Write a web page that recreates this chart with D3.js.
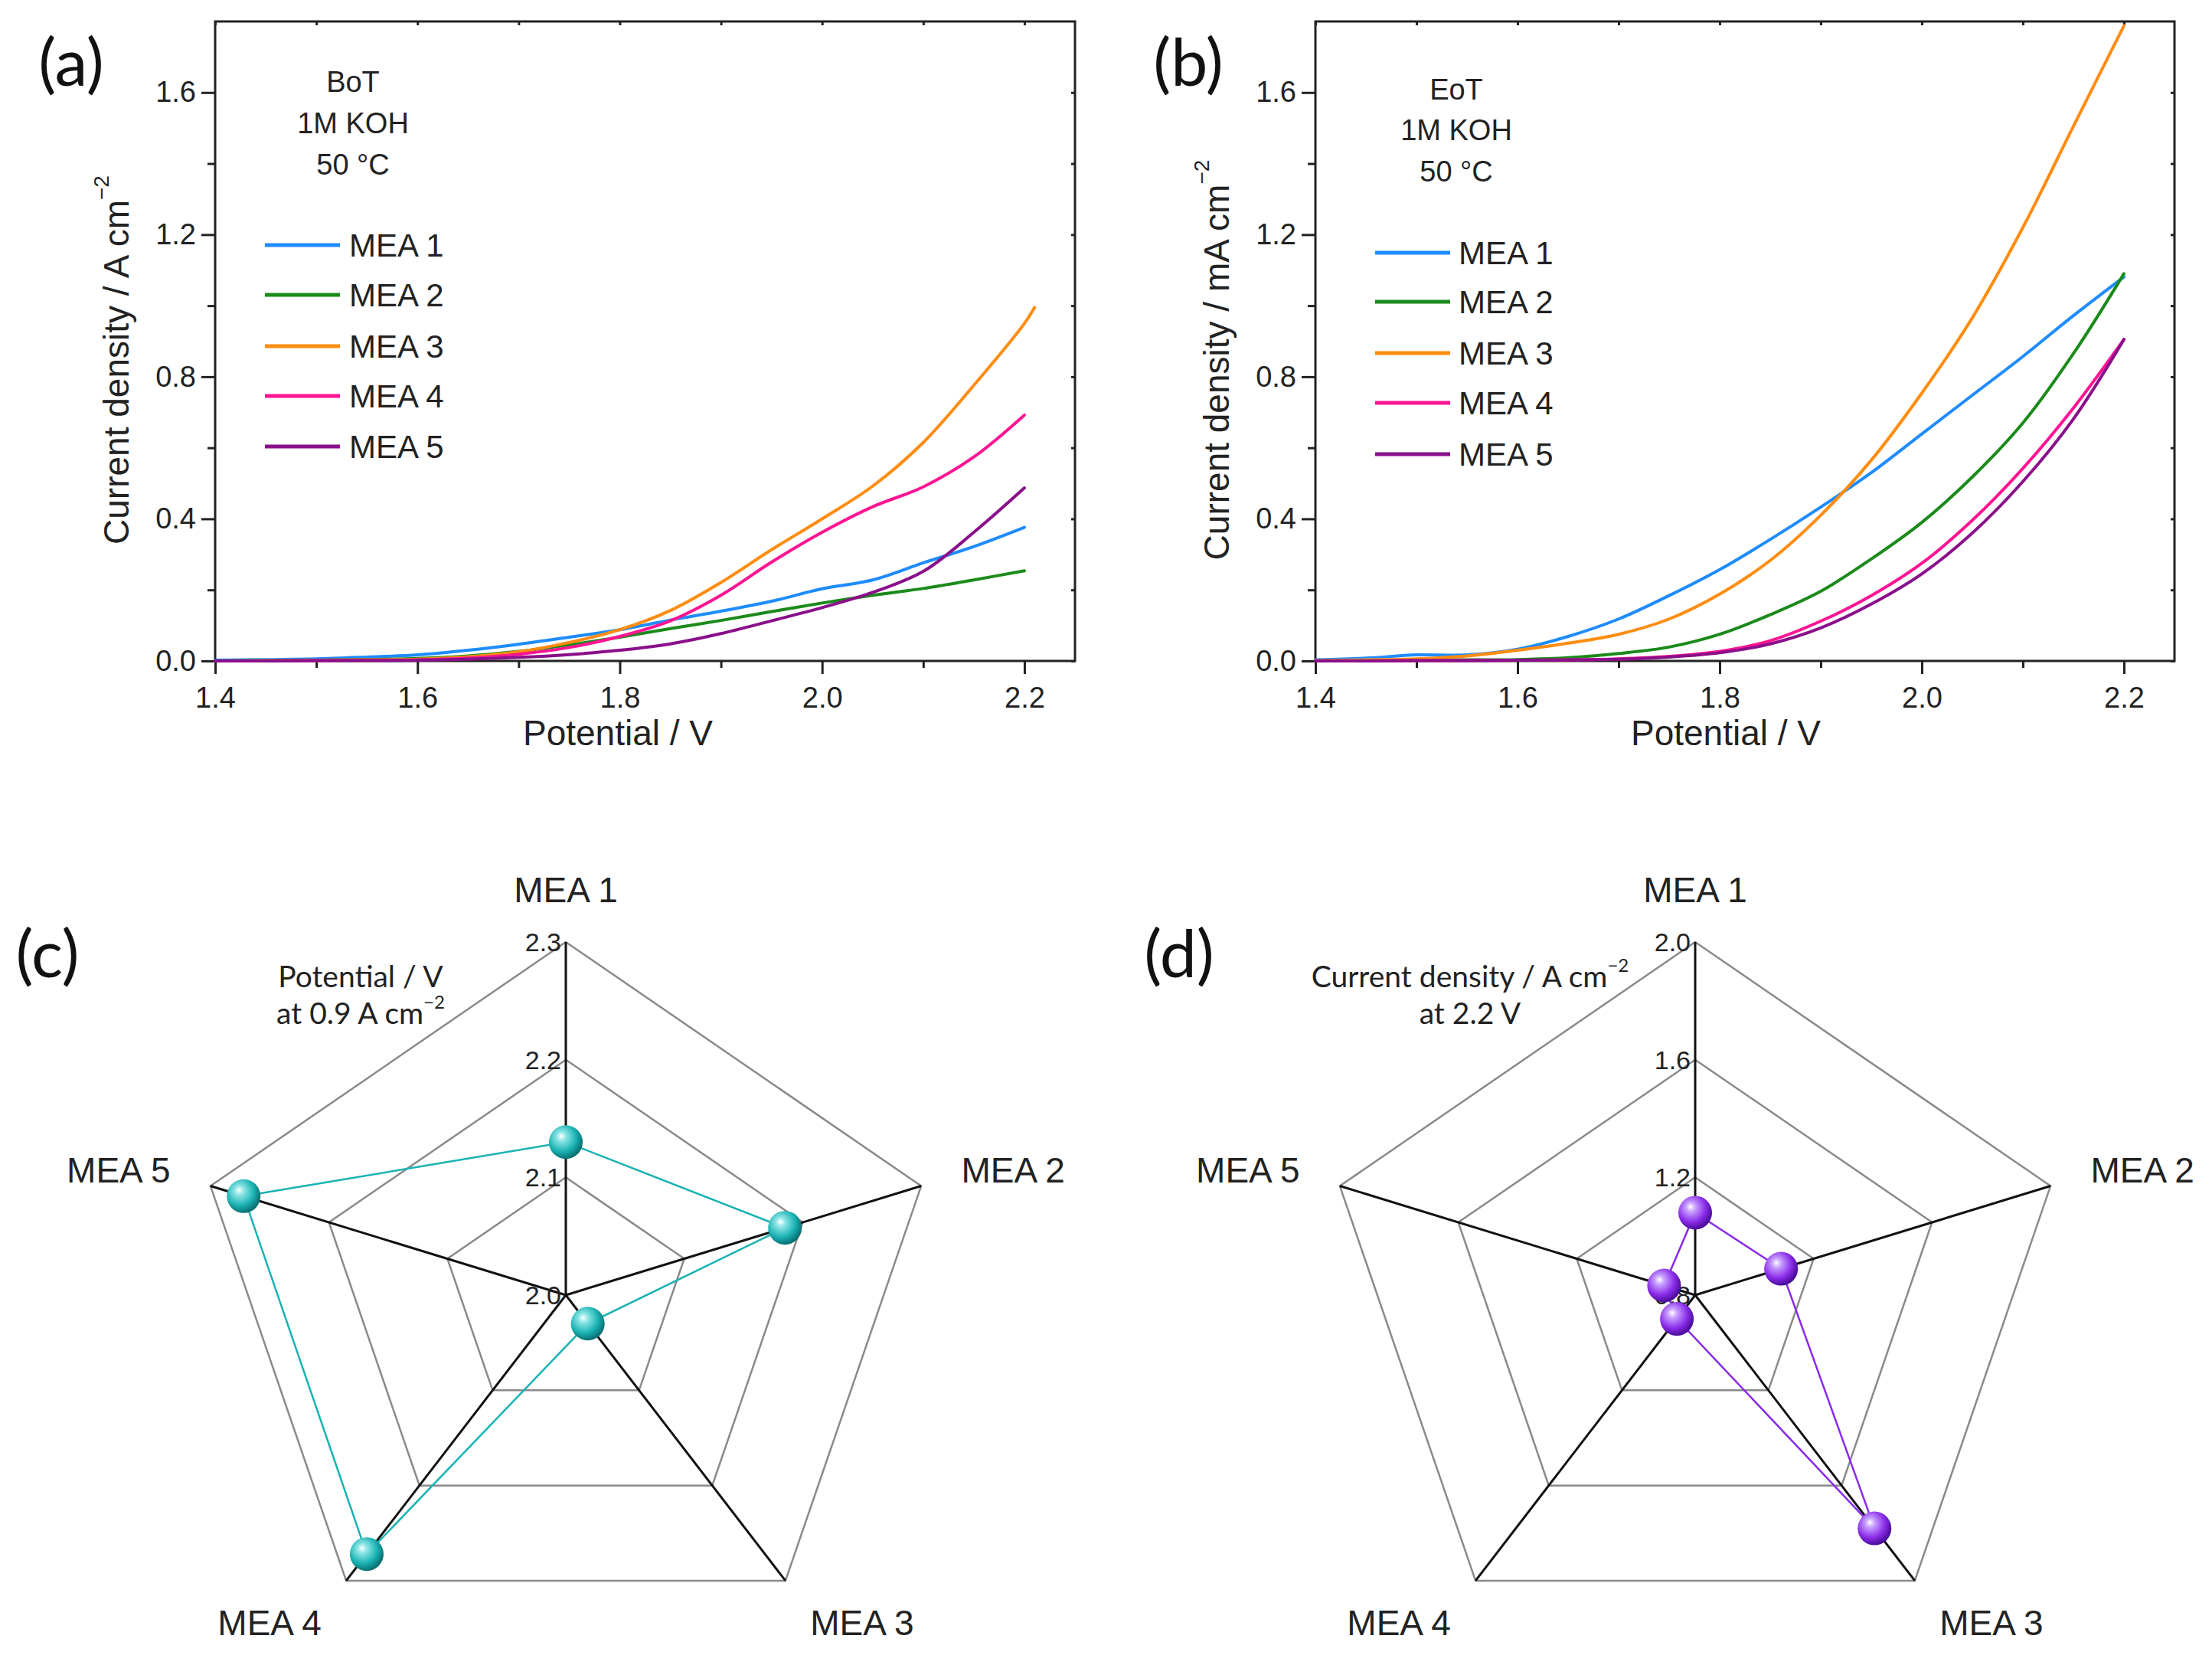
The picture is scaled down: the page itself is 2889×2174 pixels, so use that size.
<!DOCTYPE html>
<html>
<head>
<meta charset="utf-8">
<script src="https://cdn.jsdelivr.net/npm/d3@7/dist/d3.min.js"></script>
<style>
  body { margin: 0; background: #fff; }
  svg { display: block; font-family: "Liberation Sans", Arial, sans-serif; }
</style>
</head>
<body>
<div id="chart"></div>
<script>
// ---- data ----
const meaNames = ["MEA 1", "MEA 2", "MEA 3", "MEA 4", "MEA 5"]
const meaColors = ["#1e8cff", "#1b8a1b", "#ff8c0f", "#ff1493", "#8a0f8a"]

const potential = [1.40, 1.45, 1.50, 1.55, 1.60, 1.65, 1.70, 1.75, 1.80, 1.85, 1.90, 1.95, 2.00, 2.05, 2.10, 2.15, 2.20]
const potentialBotMEA3 = [1.40, 1.45, 1.50, 1.55, 1.60, 1.65, 1.70, 1.75, 1.80, 1.85, 1.90, 1.95, 2.00, 2.05, 2.10, 2.15, 2.20, 2.21]

// (a) beginning of test, A cm-2
const botMEA1 = [0.002, 0.004, 0.006, 0.011, 0.017, 0.030, 0.047, 0.067, 0.088, 0.115, 0.140, 0.168, 0.203, 0.228, 0.276, 0.322, 0.376]
const botMEA2 = [0.000, 0.001, 0.002, 0.004, 0.007, 0.014, 0.027, 0.045, 0.067, 0.091, 0.114, 0.139, 0.163, 0.185, 0.204, 0.228, 0.254]
const botMEA3 = [0.000, 0.001, 0.002, 0.003, 0.005, 0.012, 0.026, 0.052, 0.088, 0.142, 0.221, 0.313, 0.400, 0.492, 0.615, 0.776, 0.950, 0.995]
const botMEA4 = [0.000, 0.000, 0.001, 0.002, 0.003, 0.008, 0.019, 0.038, 0.069, 0.113, 0.185, 0.278, 0.362, 0.434, 0.490, 0.574, 0.692]
const botMEA5 = [0.000, 0.000, 0.001, 0.001, 0.002, 0.005, 0.010, 0.018, 0.030, 0.048, 0.077, 0.113, 0.150, 0.193, 0.252, 0.362, 0.487]

// (b) end of test
const eotMEA1 = [0.003, 0.008, 0.017, 0.017, 0.033, 0.069, 0.118, 0.184, 0.257, 0.342, 0.433, 0.530, 0.639, 0.748, 0.857, 0.972, 1.081]
const eotMEA2 = [0.000, 0.001, 0.002, 0.003, 0.004, 0.009, 0.021, 0.039, 0.075, 0.130, 0.196, 0.287, 0.390, 0.518, 0.670, 0.865, 1.090]
const eotMEA3 = [0.001, 0.003, 0.006, 0.014, 0.030, 0.050, 0.075, 0.118, 0.188, 0.283, 0.410, 0.565, 0.754, 0.966, 1.220, 1.505, 1.788]
const eotMEA4 = [0.000, 0.000, 0.001, 0.001, 0.002, 0.003, 0.006, 0.013, 0.027, 0.057, 0.112, 0.184, 0.275, 0.396, 0.542, 0.712, 0.905]
const eotMEA5 = [0.000, 0.000, 0.001, 0.001, 0.002, 0.003, 0.005, 0.011, 0.023, 0.048, 0.093, 0.160, 0.245, 0.360, 0.505, 0.681, 0.905]

const xMajorTicks = [1.4, 1.6, 1.8, 2.0, 2.2]
const xMinorTicks = [1.5, 1.7, 1.9, 2.1]
const yMajorTicks = [0, 0.4, 0.8, 1.2, 1.6]
const yMinorTicks = [0.2, 0.6, 1.0, 1.4]

// (c) potential at 0.9 A cm-2, (d) current density at 2.2 V
const radarPotential = [2.13, 2.185, 2.03, 2.272, 2.272]
const radarPotentialTicks = [2.0, 2.1, 2.2, 2.3]
const radarCurrent = [1.08, 1.09, 1.78, 0.90, 0.905]
const radarCurrentTicks = [0.8, 1.2, 1.6, 2.0]

const FONT = '"Liberation Sans", Arial, sans-serif'
const NOTE_FONT = 'Lato, "Open Sans", sans-serif'

const svg = d3.select("#chart").append("svg")
  .attr("width", 2889)
  .attr("height", 2174)

svg.append("rect").attr("width", 2889).attr("height", 2174).attr("fill", "#fff")

const defs = svg.append("defs")

function panelLetter(pos) {
  svg.append("text")
    .attr("x", pos[0])
    .attr("y", pos[1])
    .attr("text-anchor", "middle")
    .attr("dominant-baseline", "central")
    .attr("font-family", NOTE_FONT)
    .attr("font-size", 86)
    .attr("fill", "#111")
    .text(pos[2])
}

class LinePanel {
  constructor(cfg) {
    this.cfg = cfg
    this.initVis()
  }

  initVis() {
    const vis = this
    const c = vis.cfg

    vis.g = svg.append("g").attr("transform", `translate(${c.left}, ${c.top})`)

    vis.x = d3.scaleLinear().domain([1.4, 2.25]).range([0, c.width])
    vis.y = d3.scaleLinear().domain([0, 1.8]).range([c.height, 0])

    const fmt = d3.format(".1f")

    // outward ticks bottom / left
    const xMajor = vis.g.append("g")
      .attr("transform", `translate(0, ${c.height})`)
      .call(d3.axisBottom(vis.x).tickValues(xMajorTicks).tickSize(17).tickPadding(17).tickFormat(fmt))
    const xMinor = vis.g.append("g")
      .attr("transform", `translate(0, ${c.height})`)
      .call(d3.axisBottom(vis.x).tickValues(xMinorTicks).tickSize(9).tickFormat(""))
    const yMajor = vis.g.append("g")
      .call(d3.axisLeft(vis.y).tickValues(yMajorTicks).tickSize(18).tickPadding(7).tickFormat(fmt))
    const yMinor = vis.g.append("g")
      .call(d3.axisLeft(vis.y).tickValues(yMinorTicks).tickSize(10).tickFormat(""))

    // small inward ticks on top / right
    const xTop = vis.g.append("g")
      .call(d3.axisTop(vis.x).tickValues(xMajorTicks.concat(xMinorTicks)).tickSize(-5).tickFormat(""))
    const yRight = vis.g.append("g")
      .attr("transform", `translate(${c.width}, 0)`)
      .call(d3.axisRight(vis.y).tickValues(yMajorTicks.concat(yMinorTicks)).tickSize(-5).tickFormat(""))

    ;[xMajor, xMinor, yMajor, yMinor, xTop, yRight].forEach(a => {
      a.select(".domain").remove()
      a.selectAll("line").attr("stroke", "#222").attr("stroke-width", 3)
      a.selectAll("text")
        .attr("font-family", FONT)
        .attr("font-size", 38)
        .attr("fill", "#222")
    })

    vis.g.append("rect")
      .attr("width", c.width)
      .attr("height", c.height)
      .attr("fill", "none")
      .attr("stroke", "#222")
      .attr("stroke-width", 3)

    // curves
    const line = d3.line()
      .x(d => vis.x(d[0]))
      .y(d => vis.y(d[1]))
      .curve(d3.curveCatmullRom.alpha(0.5))

    c.series.forEach((s, i) => {
      vis.g.append("path")
        .datum(d3.zip(s.x, s.y))
        .attr("d", line)
        .attr("fill", "none")
        .attr("stroke", meaColors[i])
        .attr("stroke-width", 4)
        .attr("stroke-linejoin", "round")
        .attr("stroke-linecap", "round")
    })

    // legend
    const legend = svg.append("g")
    meaNames.forEach((name, i) => {
      const yy = c.legendY[i]
      legend.append("line")
        .attr("x1", c.legendX[0]).attr("x2", c.legendX[1])
        .attr("y1", yy).attr("y2", yy)
        .attr("stroke", meaColors[i])
        .attr("stroke-width", 5)
      legend.append("text")
        .attr("x", c.legendX[2])
        .attr("y", yy)
        .attr("dominant-baseline", "central")
        .attr("font-size", 42)
        .attr("fill", "#222")
        .text(name)
    })

    // condition note
    c.note.forEach((t, i) => {
      svg.append("text")
        .attr("x", c.noteX)
        .attr("y", c.noteY[i])
        .attr("text-anchor", "middle")
        .attr("dominant-baseline", "central")
        .attr("font-size", 38)
        .attr("fill", "#222")
        .text(t)
    })

    // axis titles
    svg.append("text")
      .attr("x", c.xLabel[0])
      .attr("y", c.xLabel[1])
      .attr("text-anchor", "middle")
      .attr("dominant-baseline", "central")
      .attr("font-size", 46)
      .attr("fill", "#222")
      .text("Potential / V")

    const yl = svg.append("text")
      .attr("transform", `translate(${c.yLabel[0]}, ${c.yLabel[1]}) rotate(-90)`)
      .attr("text-anchor", "middle")
      .attr("dominant-baseline", "central")
      .attr("font-size", 46)
      .attr("fill", "#222")
    yl.append("tspan").text(c.yTitle)
    yl.append("tspan").attr("font-size", 28).attr("dy", -20).text("\u22122")

    panelLetter(c.letter)
  }
}

class RadarPanel {
  constructor(cfg) {
    this.cfg = cfg
    this.initVis()
  }

  initVis() {
    const vis = this
    const c = vis.cfg
    const n = meaNames.length

    vis.g = svg.append("g").attr("transform", `translate(${c.cx}, ${c.cy})`)
    // radial fraction 0..1, stretched a little wider than tall like the original
    vis.r = d3.scaleLinear().domain(d3.extent(c.ticks)).range([0, 1])

    const ang = i => i * 2 * Math.PI / n
    const pt = (i, f, padX = 0, padY = 0) =>
      [(f * c.Rx + padX) * Math.sin(ang(i)), -(f * c.Ry + padY) * Math.cos(ang(i))]
    const ring = d3.line().curve(d3.curveLinearClosed)

    // gradient for the spheres
    const grad = defs.append("radialGradient")
      .attr("id", c.gradId)
      .attr("cx", "40%").attr("cy", "38%").attr("r", "62%")
      .attr("fx", "36%").attr("fy", "32%")
    grad.append("stop").attr("offset", "0%").attr("stop-color", "#ffffff")
    grad.append("stop").attr("offset", "22%").attr("stop-color", c.light)
    grad.append("stop").attr("offset", "68%").attr("stop-color", c.color)
    grad.append("stop").attr("offset", "100%").attr("stop-color", c.dark)

    // grid rings
    c.ticks.slice(1).forEach(t => {
      vis.g.append("path")
        .attr("d", ring(d3.range(n).map(i => pt(i, vis.r(t)))))
        .attr("fill", "none")
        .attr("stroke", "#8a8a8a")
        .attr("stroke-width", 2.5)
    })

    // spokes
    d3.range(n).forEach(i => {
      const p = pt(i, 1)
      vis.g.append("line")
        .attr("x1", 0).attr("y1", 0)
        .attr("x2", p[0]).attr("y2", p[1])
        .attr("stroke", "#111")
        .attr("stroke-width", 3)
    })

    // tick labels along the first spoke
    c.ticks.forEach(t => {
      vis.g.append("text")
        .attr("x", -6)
        .attr("y", pt(0, vis.r(t))[1])
        .attr("text-anchor", "end")
        .attr("dominant-baseline", "central")
        .attr("font-size", 34)
        .attr("fill", "#222")
        .text(d3.format(".1f")(t))
    })

    // axis names
    const anchors = ["middle", "start", "start", "end", "end"]
    meaNames.forEach((name, i) => {
      const p = pt(i, 1, 55, 68)
      vis.g.append("text")
        .attr("x", p[0])
        .attr("y", p[1])
        .attr("text-anchor", anchors[i])
        .attr("dominant-baseline", "central")
        .attr("font-size", 46)
        .attr("fill", "#222")
        .text(name)
    })

    // data polygon + spheres
    const pts = c.values.map((v, i) => pt(i, vis.r(v)))
    vis.g.append("path")
      .attr("d", ring(pts))
      .attr("fill", "none")
      .attr("stroke", c.color)
      .attr("stroke-width", 2.5)

    vis.g.selectAll(".ball")
      .data(pts)
      .enter().append("circle")
        .attr("class", "ball")
        .attr("cx", d => d[0])
        .attr("cy", d => d[1])
        .attr("r", 22)
        .attr("fill", `url(#${c.gradId})`)

    // quantity note
    c.note.forEach((line, i) => {
      const t = svg.append("text")
        .attr("x", c.noteX)
        .attr("y", c.noteY[i])
        .attr("text-anchor", "middle")
        .attr("dominant-baseline", "central")
        .attr("font-family", NOTE_FONT)
        .attr("font-size", 39)
        .attr("fill", "#222")
      t.append("tspan").text(line[0])
      if (line[1]) t.append("tspan").attr("font-size", 24).attr("dy", -15).text(line[1])
    })

    panelLetter(c.letter)
  }
}

new LinePanel({
  left: 281, top: 28, width: 1123, height: 835,
  series: [
    { x: potential, y: botMEA1 },
    { x: potential, y: botMEA2 },
    { x: potentialBotMEA3, y: botMEA3 },
    { x: potential, y: botMEA4 },
    { x: potential, y: botMEA5 }
  ],
  legendX: [346, 444, 456],
  legendY: [320, 385, 452, 517, 583],
  note: ["BoT", "1M KOH", "50 \u00B0C"],
  noteX: 461, noteY: [107, 161, 215],
  xLabel: [807, 957],
  yLabel: [152, 470],
  yTitle: "Current density / A cm",
  letter: [93, 78, "(a)"]
})

new LinePanel({
  left: 1718, top: 28, width: 1122, height: 835,
  series: [
    { x: potential, y: eotMEA1 },
    { x: potential, y: eotMEA2 },
    { x: potential, y: eotMEA3 },
    { x: potential, y: eotMEA4 },
    { x: potential, y: eotMEA5 }
  ],
  legendX: [1796, 1894, 1905],
  legendY: [330, 394, 461, 526, 593],
  note: ["EoT", "1M KOH", "50 \u00B0C"],
  noteX: 1902, noteY: [117, 170, 224],
  xLabel: [2254, 957],
  yLabel: [1589, 470],
  yTitle: "Current density / mA cm",
  letter: [1552, 78, "(b)"]
})

new RadarPanel({
  cx: 739, cy: 1691, Rx: 488, Ry: 461,
  ticks: radarPotentialTicks,
  values: radarPotential,
  color: "#19b2b2", light: "#8fe6e6", dark: "#0a6f72",
  gradId: "ballTeal",
  note: [["Potential / V"], ["at 0.9 A cm", "\u22122"]],
  noteX: 471, noteY: [1274, 1322],
  letter: [62, 1242, "(c)"]
})

new RadarPanel({
  cx: 2214, cy: 1691, Rx: 488, Ry: 461,
  ticks: radarCurrentTicks,
  values: radarCurrent,
  color: "#8a2be8", light: "#c9a2ff", dark: "#4a0d99",
  gradId: "ballPurple",
  note: [["Current density / A cm", "\u22122"], ["at 2.2 V"]],
  noteX: 1920, noteY: [1274, 1322],
  letter: [1540, 1242, "(d)"]
})
</script>
</body>
</html>
